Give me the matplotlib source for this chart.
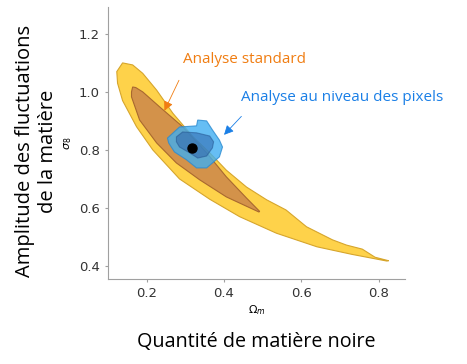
import numpy as np
import matplotlib.pyplot as plt
from matplotlib.patches import Polygon

# contours (Omega_m, sigma_8)
std_95_x = [0.138, 0.123, 0.125, 0.138, 0.174, 0.216, 0.285, 0.363, 0.44, 0.535, 0.64, 0.73, 0.82, 0.825,
            0.79, 0.757, 0.716, 0.68, 0.613, 0.56, 0.51, 0.458, 0.406, 0.363, 0.32, 0.268, 0.226, 0.19, 0.164]
std_95_y = [1.10, 1.07, 1.03, 0.97, 0.88, 0.80, 0.70, 0.63, 0.57, 0.513, 0.466, 0.44, 0.417, 0.418,
            0.43, 0.458, 0.472, 0.49, 0.535, 0.593, 0.628, 0.672, 0.73, 0.79, 0.845, 0.926, 1.006, 1.064, 1.093]
std_68_x = [0.164, 0.161, 0.161, 0.182, 0.226, 0.277, 0.337, 0.406, 0.49, 0.492,
            0.458, 0.406, 0.355, 0.293, 0.234, 0.19, 0.172]
std_68_y = [1.017, 1.0, 0.983, 0.903, 0.824, 0.755, 0.697, 0.638, 0.586, 0.588,
            0.634, 0.707, 0.79, 0.88, 0.948, 1.0, 1.015]
pix_95_x = [0.254, 0.285, 0.329, 0.332, 0.355, 0.37, 0.388, 0.396, 0.388, 0.37, 0.355, 0.329, 0.303, 0.272, 0.257]
pix_95_y = [0.841, 0.879, 0.883, 0.903, 0.90, 0.869, 0.834, 0.81, 0.776, 0.755, 0.738, 0.738, 0.766, 0.793, 0.824]
pix_68_x = [0.277, 0.293, 0.329, 0.363, 0.373, 0.37, 0.355, 0.332, 0.311, 0.285, 0.277]
pix_68_y = [0.845, 0.862, 0.859, 0.848, 0.828, 0.807, 0.779, 0.772, 0.79, 0.81, 0.828]
fid = (0.316, 0.807)

fig = plt.figure(figsize=(4.67, 3.64), dpi=100)
ax = fig.add_axes([0.231, 0.2335, 0.636, 0.7475])

ax.add_patch(Polygon(np.column_stack([std_95_x, std_95_y]), closed=True,
                     facecolor='#fed24a', edgecolor='#d6a52c', lw=0.8))
ax.add_patch(Polygon(np.column_stack([std_68_x, std_68_y]), closed=True,
                     facecolor='#d3924a', edgecolor='#a8682f', lw=0.8))
ax.add_patch(Polygon(np.column_stack([pix_95_x, pix_95_y]), closed=True,
                     facecolor='#40aef2', edgecolor='#2a8ad0', lw=0.8, alpha=0.8))
ax.add_patch(Polygon(np.column_stack([pix_68_x, pix_68_y]), closed=True,
                     facecolor='#2a5ea6', edgecolor='#1f4e8a', lw=0.8, alpha=0.5))
ax.plot(*fid, 'o', color='black', ms=6.5)

ax.set_xlim(0.1, 0.867)
ax.set_ylim(0.355, 1.293)
ax.set_xticks([0.2, 0.4, 0.6, 0.8])
ax.set_yticks([0.4, 0.6, 0.8, 1.0, 1.2])
ax.xaxis.set_major_formatter(plt.FormatStrFormatter('%.1f'))
ax.yaxis.set_major_formatter(plt.FormatStrFormatter('%.1f'))
for s in ['top', 'right']:
    ax.spines[s].set_visible(False)
for s in ['left', 'bottom']:
    ax.spines[s].set_color('#a0a0a0')
ax.tick_params(colors='#a0a0a0', labelcolor='#333333', labelsize=9.5, length=2.5)
ax.set_xlabel(r'$\Omega_m$', fontsize=8, labelpad=2)
ax.set_ylabel(r'$\sigma_8$', fontsize=8, labelpad=3)

ax.annotate('Analyse standard', xy=(0.246, 0.935), xytext=(0.293, 1.11),
            color='#f07d12', fontsize=11, family='Open Sans', ha='left', va='center',
            arrowprops=dict(arrowstyle='-|>', color='#f07d12', lw=0.6, shrinkA=8, shrinkB=0,
                            mutation_scale=14, relpos=(0.02, 0)))
ax.annotate('Analyse au niveau des pixels', xy=(0.40, 0.852), xytext=(0.445, 0.979),
            color='#1a7fe6', fontsize=11, family='Open Sans', ha='left', va='center',
            arrowprops=dict(arrowstyle='-|>', color='#1a7fe6', lw=0.6, shrinkA=8, shrinkB=0,
                            mutation_scale=14, relpos=(0.05, 0)))

fig.text(0.078, 0.585, 'Amplitude des fluctuations\nde la matière', rotation=90,
         ha='center', va='center', fontsize=14.5, family='Open Sans', linespacing=1.15)
fig.text(0.549, 0.06, 'Quantité de matière noire', ha='center', va='center',
         fontsize=14.2, family='Open Sans')

fig.savefig('out.png', dpi=100)
